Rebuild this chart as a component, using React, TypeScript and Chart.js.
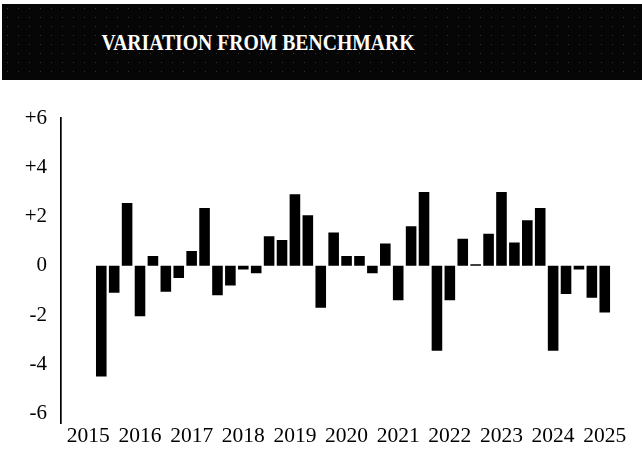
import { useEffect, useRef } from 'react';
import { Chart, registerables } from 'chart.js';

Chart.register(...registerables);

const TITLE = 'VARIATION FROM BENCHMARK';

const yearLabels = ['2015', '2016', '2017', '2018', '2019', '2020', '2021', '2022', '2023', '2024', '2025'];

// quarterly variation values, first bar just after the 2015 mark, last at 2025
const quarterlyVariation = [
  -4.5, -1.1, 2.55, -2.05,
  0.4, -1.05, -0.5, 0.6,
  2.35, -1.2, -0.8, -0.15,
  -0.3, 1.2, 1.05, 2.9,
  2.05, -1.7, 1.35, 0.4,
  0.4, -0.3, 0.9, -1.4,
  1.6, 3.0, -3.45, -1.4,
  1.1, 0.06, 1.3, 3.0,
  0.95, 1.85, 2.35, -3.45,
  -1.15, -0.15, -1.3, -1.9,
];

const firstPeriod = 2015.25;
const periodsPerYear = 4;

const yTickValues = [-6, -4, -2, 0, 2, 4, 6];
const yTickLabels = ['-6', '-4', '-2', '0', '+2', '+4', '+6'];

const FONT = '"Liberation Serif", "Times New Roman", serif';

export default function App() {
  const canvasRef = useRef<HTMLCanvasElement | null>(null);

  useEffect(() => {
    const canvas = canvasRef.current;
    if (!canvas) return;
    const points = quarterlyVariation.map((v, i) => ({ x: firstPeriod + i / periodsPerYear, y: v }));
    const chart = new Chart(canvas, {
      type: 'bar',
      data: {
        datasets: [
          {
            data: points as any,
            backgroundColor: '#000000',
            borderWidth: 0,
            barPercentage: 0.82,
            categoryPercentage: 1,
          },
        ],
      },
      options: {
        responsive: false,
        animation: false,
        layout: { padding: { top: 38, right: 14, left: 0, bottom: 0 } },
        plugins: {
          legend: { display: false },
          tooltip: { enabled: false },
          title: { display: false },
        },
        scales: {
          x: {
            type: 'linear',
            offset: false,
            min: 2014.47,
            max: 2025.45,
            grid: { display: false, drawTicks: false, tickLength: 0, offset: false },
            border: { display: false },
            afterBuildTicks: (scale: any) => {
              scale.ticks = yearLabels.map((y) => ({ value: Number(y) }));
            },
            afterFit: (scale: any) => {
              scale.height = 23;
            },
            ticks: {
              autoSkip: false,
              maxRotation: 0,
              minRotation: 0,
              padding: 0,
              color: '#000',
              font: { family: FONT, size: 21.5 },
              callback: (value: any) => String(value),
            },
          },
          y: {
            type: 'linear',
            min: -6.4,
            max: 6,
            grid: { display: false, drawTicks: false, tickLength: 0 },
            border: { display: true, color: '#000', width: 1.7 },
            afterBuildTicks: (scale: any) => {
              scale.ticks = yTickValues.map((v) => ({ value: v }));
            },
            afterFit: (scale: any) => {
              scale.width = 61;
            },
            ticks: {
              padding: 14,
              color: '#000',
              font: { family: FONT, size: 21 },
              callback: (value: any) => {
                const idx = yTickValues.indexOf(Number(value));
                return idx >= 0 ? yTickLabels[idx] : '';
              },
            },
          },
        },
      },
    });
    return () => chart.destroy();
  }, []);

  return (
    <div
      style={{
        position: 'fixed',
        left: 0,
        top: 0,
        width: 642,
        height: 450,
        background: '#ffffff',
        overflow: 'hidden',
      }}
    >
      <div
        style={{
          position: 'absolute',
          left: 2,
          top: 4,
          width: 640,
          height: 76,
          backgroundColor: '#060606',
          backgroundImage:
            'radial-gradient(circle, rgba(210,210,210,0.22) 0.6px, transparent 0.9px)',
          backgroundSize: '11px 9px',
        }}
      >
        <div
          style={{
            position: 'absolute',
            left: 256,
            top: 38,
            transform: 'translate(-50%, -50%) scaleX(0.82)',
            whiteSpace: 'nowrap',
            color: '#ffffff',
            fontFamily: FONT,
            fontWeight: 'bold',
            fontSize: 24,
            lineHeight: 1,
          }}
        >
          {TITLE}
        </div>
      </div>
      <canvas
        ref={canvasRef}
        width={642}
        height={370}
        style={{ position: 'absolute', left: 0, top: 80, width: 642, height: 370 }}
      />
    </div>
  );
}
